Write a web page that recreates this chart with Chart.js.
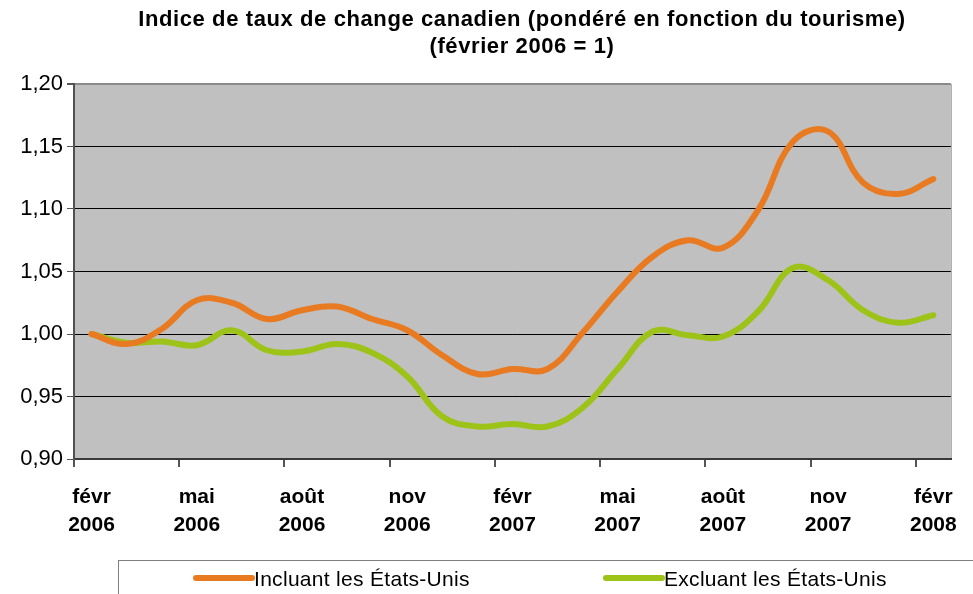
<!DOCTYPE html>
<html>
<head>
<meta charset="utf-8">
<script src="https://cdn.jsdelivr.net/npm/chart.js@4"></script>
<style>
  html, body { margin: 0; padding: 0; background: #fff; }
  #wrap { width: 973px; height: 594px; }
</style>
</head>
<body>
<div id="wrap"><canvas id="chart" width="973" height="594"></canvas></div>
<script>
// Indice de taux de change canadien — monthly, févr 2006 to févr 2008
const months = ['févr', 'mars', 'avr', 'mai', 'juin', 'juil', 'août', 'sept', 'oct', 'nov', 'déc', 'janv',
  'févr', 'mars', 'avr', 'mai', 'juin', 'juil', 'août', 'sept', 'oct', 'nov', 'déc', 'janv', 'févr'];
const years = [2006, 2006, 2006, 2006, 2006, 2006, 2006, 2006, 2006, 2006, 2006, 2007,
  2007, 2007, 2007, 2007, 2007, 2007, 2007, 2007, 2007, 2007, 2007, 2008, 2008];

const withUS = [1.000, 0.992, 1.004, 1.027, 1.025, 1.012, 1.019, 1.022, 1.012, 1.003, 0.983, 0.968,
  0.972, 0.972, 1.001, 1.034, 1.062, 1.075, 1.069, 1.099, 1.154, 1.162, 1.121, 1.112, 1.124];
const withoutUS = [1.000, 0.993, 0.994, 0.991, 1.003, 0.987, 0.986, 0.992, 0.985, 0.966, 0.934, 0.926,
  0.928, 0.926, 0.941, 0.972, 1.002, 0.999, 0.998, 1.018, 1.053, 1.043, 1.019, 1.009, 1.015];

const seriesNames = ['Incluant les États-Unis', 'Excluant les États-Unis'];
const seriesColors = ['#E87B21', '#9DC319'];
const titleLines = ['Indice de taux de change canadien (pondéré en fonction du tourisme)', '(février 2006 = 1)'];

const FONT = "'Liberation Sans', Arial, Helvetica, sans-serif";

// gray plot background + right frame
const plotBg = {
  id: 'plotBg',
  beforeDraw(chart) {
    const { ctx, chartArea: a } = chart;
    ctx.save();
    ctx.fillStyle = '#C0C0C0';
    ctx.fillRect(a.left, a.top, a.right - a.left, a.bottom - a.top);
    ctx.strokeStyle = '#A8A8A8';
    ctx.lineWidth = 1;
    ctx.beginPath();
    ctx.moveTo(a.right + 0.5, a.top);
    ctx.lineTo(a.right + 0.5, a.bottom);
    ctx.stroke();
    ctx.restore();
  }
};

// title and boxed legend
const extras = {
  id: 'extras',
  afterDraw(chart) {
    const { ctx } = chart;
    ctx.save();
    ctx.fillStyle = '#000';
    ctx.textAlign = 'center';
    ctx.textBaseline = 'middle';
    ctx.font = 'bold 22px ' + FONT;
    ctx.letterSpacing = '0.6px';
    ctx.fillText(titleLines[0], 522, 20);
    ctx.fillText(titleLines[1], 522, 47);

    ctx.strokeStyle = '#7F7F7F';
    ctx.lineWidth = 1;
    ctx.strokeRect(118.5, 560.5, 870, 60);

    const items = [{ x: 196 }, { x: 606 }];
    ctx.font = '21px ' + FONT;
    ctx.letterSpacing = '0.3px';
    ctx.textAlign = 'left';
    items.forEach((it, i) => {
      ctx.strokeStyle = seriesColors[i];
      ctx.lineWidth = 6;
      ctx.lineCap = 'round';
      ctx.beginPath();
      ctx.moveTo(it.x, 578);
      ctx.lineTo(it.x + 56, 578);
      ctx.stroke();
      ctx.fillStyle = '#000';
      ctx.fillText(seriesNames[i], it.x + 58, 580);
    });
    ctx.restore();
  }
};

new Chart(document.getElementById('chart'), {
  type: 'line',
  data: {
    labels: months.map((m, i) => [m, String(years[i])]),
    datasets: [
      {
        label: seriesNames[0],
        data: withUS,
        borderColor: seriesColors[0],
        borderWidth: 6,
        tension: 0.4,
        pointRadius: 0,
        borderCapStyle: 'round',
        borderJoinStyle: 'round'
      },
      {
        label: seriesNames[1],
        data: withoutUS,
        borderColor: seriesColors[1],
        borderWidth: 6,
        tension: 0.4,
        pointRadius: 0,
        borderCapStyle: 'round',
        borderJoinStyle: 'round'
      }
    ]
  },
  options: {
    responsive: false,
    animation: false,
    layout: { padding: { top: 84, left: 0, right: 14, bottom: 0 } },
    plugins: {
      legend: { display: false },
      title: { display: false },
      tooltip: { enabled: false }
    },
    scales: {
      x: {
        offset: true,
        border: { color: '#3A3A3A', width: 2 },
        grid: {
          offset: true,
          drawOnChartArea: false,
          tickLength: 8,
          color: c => (c.index % 3 === 0 ? '#555' : 'rgba(0,0,0,0)'),
          lineWidth: 2
        },
        ticks: {
          autoSkip: false,
          maxRotation: 0,
          padding: 16,
          color: '#000',
          font: { family: FONT, size: 21, weight: 'bold', lineHeight: 1.33 },
          callback: function (v, i) {
            return i % 3 === 0 ? this.getLabelForValue(v) : '';
          }
        },
        afterFit: s => { s.height = 135; }
      },
      y: {
        min: 0.9,
        max: 1.2,
        border: { color: '#505050', width: 2 },
        grid: {
          color: c => (Math.abs(c.tick.value - 1.2) < 1e-6 ? '#8A8A8A' : '#000'),
          lineWidth: c => (Math.abs(c.tick.value - 1.2) < 1e-6 ? 2 : 1),
          tickColor: '#555',
          tickLength: 7
        },
        ticks: {
          stepSize: 0.05,
          padding: 4,
          color: '#000',
          font: { family: FONT, size: 22 },
          callback: v => v.toFixed(2).replace('.', ',')
        },
        afterFit: s => { s.width = 74; }
      }
    }
  },
  plugins: [plotBg, extras]
});
</script>
</body>
</html>
